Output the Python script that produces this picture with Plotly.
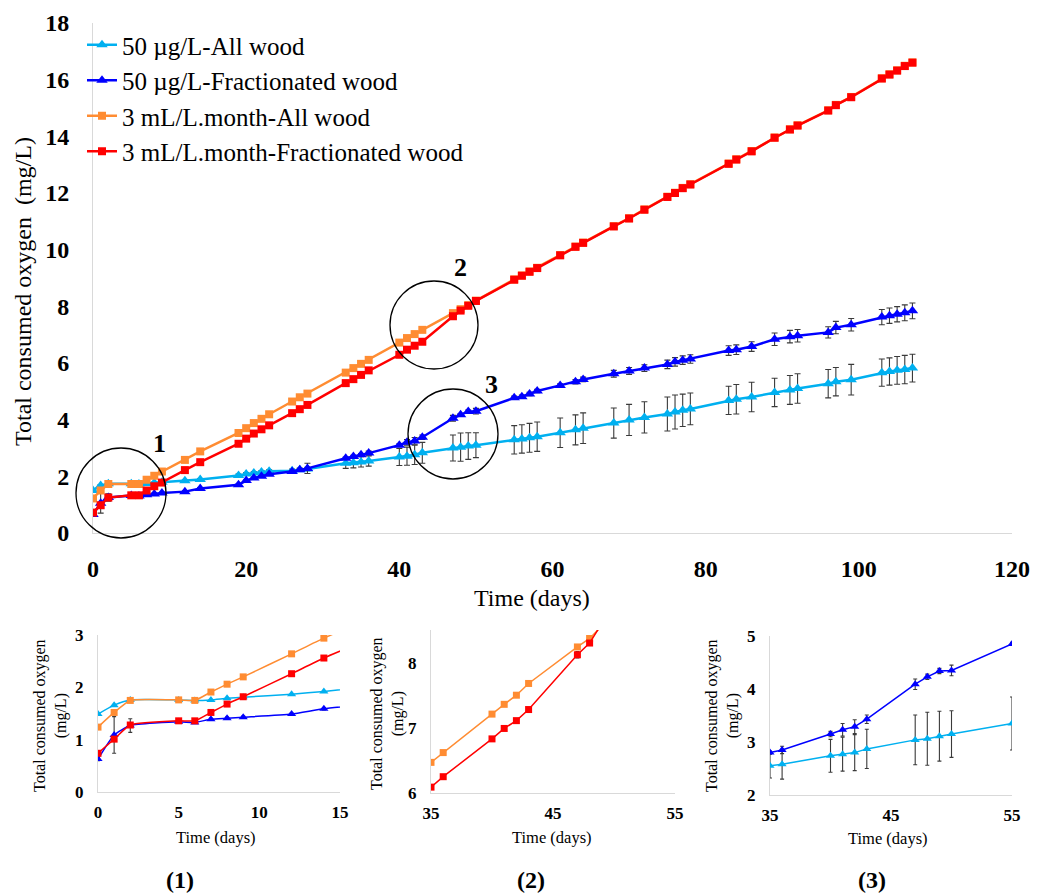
import plotly.graph_objects as go

# ---------------- data: main chart ----------------
days_main = [0, 1, 2, 5, 6, 7, 8, 9, 12, 14, 19, 20, 21, 22, 23, 26, 27, 28,
             33, 34, 35, 36, 40, 41, 42, 43, 47, 48, 49, 50, 55, 56, 57, 58,
             61, 63, 64, 68, 70, 72, 75, 76, 77, 78, 83, 84, 86, 89, 91, 92,
             96, 97, 99, 103, 104, 105, 106, 107]

cyan_main = [1.50, 1.68, 1.74, 1.74, 1.73, 1.75, 1.77, 1.79, 1.84, 1.89,
             2.03, 2.08, 2.12, 2.15, 2.18, 2.20, 2.23, 2.26,
             2.46, 2.48, 2.51, 2.54, 2.68, 2.71, 2.76, 2.83,
             3.00, 3.03, 3.07, 3.10, 3.29, 3.32, 3.36, 3.40,
             3.54, 3.64, 3.70, 3.88, 3.99, 4.08, 4.20, 4.27, 4.33, 4.38,
             4.68, 4.72, 4.80, 4.96, 5.05, 5.10, 5.27, 5.34, 5.41,
             5.66, 5.70, 5.74, 5.77, 5.82]
cyan_err = [0.03, 0.03, 0.03, 0.03, 0.03, 0.03, 0.03, 0.03, 0.03, 0.03,
            0.05, 0.05, 0.05, 0.05, 0.05, 0.06, 0.06, 0.06,
            0.18, 0.18, 0.18, 0.18, 0.30, 0.32, 0.34, 0.37,
            0.46, 0.50, 0.47, 0.44, 0.50, 0.50, 0.51, 0.52,
            0.52, 0.53, 0.54, 0.53, 0.55, 0.55, 0.60, 0.60, 0.57, 0.56,
            0.50, 0.52, 0.52, 0.50, 0.51, 0.52, 0.50, 0.50, 0.54,
            0.48, 0.48, 0.49, 0.50, 0.49]

blue_main = [0.65, 1.05, 1.25, 1.32, 1.31, 1.35, 1.38, 1.41, 1.46, 1.57,
             1.70, 1.85, 1.94, 2.00, 2.07, 2.17, 2.23, 2.28,
             2.64, 2.70, 2.76, 2.82, 3.10, 3.20, 3.25, 3.38,
             4.05, 4.17, 4.29, 4.30, 4.77, 4.81, 4.91, 5.01,
             5.21, 5.34, 5.42, 5.62, 5.72, 5.82, 5.95, 6.04, 6.10, 6.14,
             6.44, 6.47, 6.58, 6.84, 6.93, 6.96, 7.08, 7.25, 7.35,
             7.62, 7.67, 7.72, 7.77, 7.84]
blue_err = [0.05, 0.35, 0.13, 0.03, 0.03, 0.03, 0.03, 0.03, 0.03, 0.03,
            0.03, 0.03, 0.03, 0.03, 0.03, 0.04, 0.04, 0.18,
            0.04, 0.04, 0.04, 0.07, 0.05, 0.10, 0.12, 0.08,
            0.10, 0.05, 0.05, 0.10, 0.06, 0.06, 0.06, 0.06,
            0.06, 0.08, 0.08, 0.12, 0.12, 0.12, 0.15, 0.15, 0.15, 0.15,
            0.17, 0.17, 0.17, 0.22, 0.22, 0.22, 0.20, 0.22, 0.22,
            0.27, 0.27, 0.27, 0.28, 0.28]

orange_main = [1.22, 1.50, 1.73, 1.73, 1.73, 1.88, 2.02, 2.17, 2.58, 2.88,
               3.53, 3.70, 3.88, 4.03, 4.19, 4.64, 4.79, 4.92,
               5.66, 5.82, 5.97, 6.11, 6.72, 6.88, 7.02, 7.17,
               7.76, 7.90, 8.04, 8.20, 8.95, 9.09, 9.23, 9.36,
               9.81, 10.11, 10.25, 10.83, 11.11, 11.42, 11.87, 12.01, 12.18, 12.31,
               13.04, 13.19, 13.48, 13.96, 14.25, 14.39, 14.92, 15.11, 15.39,
               16.05, 16.19, 16.33, 16.49, 16.61]

red_main = [0.72, 0.98, 1.25, 1.33, 1.33, 1.50, 1.65, 1.78, 2.22, 2.50,
            3.15, 3.33, 3.51, 3.66, 3.80, 4.23, 4.37, 4.52,
            5.29, 5.43, 5.58, 5.74, 6.29, 6.47, 6.61, 6.75,
            7.65, 7.85, 8.02, 8.19, 8.94, 9.08, 9.22, 9.35,
            9.80, 10.10, 10.24, 10.82, 11.10, 11.41, 11.86, 12.00, 12.17, 12.30,
            13.03, 13.18, 13.47, 13.95, 14.24, 14.38, 14.91, 15.10, 15.38,
            16.04, 16.18, 16.32, 16.48, 16.60]

# ---------------- data: inset (1) ----------------
days_in1 = [0, 1, 2, 5, 6, 7, 8, 9, 12, 14, 19]
cyan_in1 = [1.49, 1.66, 1.76, 1.76, 1.75, 1.76, 1.79, 1.81, 1.87, 1.92, 2.08]
blue_in1 = [0.63, 1.09, 1.27, 1.34, 1.33, 1.39, 1.41, 1.43, 1.49, 1.59, 1.75]
blue_in1_err = [0.03, 0.35, 0.13, 0.02, 0.02, 0.02, 0.02, 0.02, 0.02, 0.02, 0.02]
orange_in1 = [1.24, 1.52, 1.75, 1.76, 1.75, 1.91, 2.06, 2.20, 2.64, 2.94, 3.60]
red_in1 = [0.74, 1.01, 1.28, 1.36, 1.36, 1.52, 1.68, 1.82, 2.26, 2.56, 3.20]

# ---------------- data: inset (2) ----------------
days_in2 = [35, 36, 40, 41, 42, 43, 47, 48, 49]
orange_in2 = [6.47, 6.62, 7.21, 7.36, 7.50, 7.68, 8.24, 8.37, 8.56]
red_in2 = [6.09, 6.25, 6.83, 6.99, 7.11, 7.28, 8.12, 8.30, 8.60]
red_in2_err = [0.0, 0.0, 0.0, 0.0, 0.0, 0.0, 0.05, 0.0, 0.0]

# ---------------- data: inset (3) ----------------
days_in3 = [35, 36, 40, 41, 42, 43, 47, 48, 49, 50, 55]
blue_in3 = [2.80, 2.85, 3.15, 3.23, 3.29, 3.43, 4.09, 4.23, 4.34, 4.35, 4.85]
blue_in3_err = [0.03, 0.07, 0.05, 0.12, 0.13, 0.08, 0.10, 0.05, 0.05, 0.10, 0.03]
cyan_in3 = [2.55, 2.58, 2.74, 2.77, 2.80, 2.87, 3.04, 3.06, 3.11, 3.15, 3.35]
cyan_in3_err = [0.23, 0.28, 0.31, 0.32, 0.34, 0.37, 0.47, 0.50, 0.47, 0.44, 0.50]

names = ["50 µg/L-All wood", "50 µg/L-Fractionated wood",
         "3 mL/L.month-All wood", "3 mL/L.month-Fractionated wood"]

# ---------------- styling ----------------
OFF = 8                      # page body offset of the figure
FW, FH = 1040, 887           # figure size
FONT = "Liberation Serif"
C_CYAN, C_BLUE, C_ORANGE, C_RED = "#00B0F0", "#0000FF", "#FF8C32", "#FF0000"
ERR_C = "#3a3a3a"
AXIS_C = "#d9d9d9"


def px_x(p):
    return (p - OFF) / FW


def px_y(p):
    return 1 - (p - OFF) / FH


def err(arr, w=3):
    return dict(type="data", array=arr, visible=True, color=ERR_C, thickness=1.1, width=w)


fig = go.Figure()

# main traces
main_specs = [
    (cyan_main, C_CYAN, "triangle-up", 10, cyan_err),
    (blue_main, C_BLUE, "triangle-up", 10, blue_err),
    (orange_main, C_ORANGE, "square", 8, None),
    (red_main, C_RED, "square", 8, None),
]
for (vals, col, sym, size, e), nm in zip(main_specs, names):
    fig.add_trace(go.Scatter(
        x=days_main, y=vals, name=nm, mode="lines+markers",
        line=dict(color=col, width=2.5),
        marker=dict(color=col, symbol=sym, size=size),
        error_y=err(e) if e is not None else None,
        xaxis="x", yaxis="y", showlegend=True))

# inset 1
in1_specs = [
    (cyan_in1, C_CYAN, "triangle-up", 8, None),
    (blue_in1, C_BLUE, "triangle-up", 8, blue_in1_err),
    (orange_in1, C_ORANGE, "square", 7, None),
    (red_in1, C_RED, "square", 7, None),
]
for vals, col, sym, size, e in in1_specs:
    fig.add_trace(go.Scatter(
        x=days_in1, y=vals, mode="lines+markers",
        line=dict(color=col, width=1.5, shape="spline", smoothing=0.5),
        marker=dict(color=col, symbol=sym, size=size),
        error_y=err(e, 2) if e is not None else None,
        xaxis="x2", yaxis="y2", showlegend=False, cliponaxis=True))

# inset 2
for vals, col, e in [(orange_in2, C_ORANGE, None), (red_in2, C_RED, red_in2_err)]:
    fig.add_trace(go.Scatter(
        x=days_in2, y=vals, mode="lines+markers",
        line=dict(color=col, width=1.5),
        marker=dict(color=col, symbol="square", size=7),
        error_y=err(e, 2) if e is not None else None,
        xaxis="x3", yaxis="y3", showlegend=False, cliponaxis=True))

# inset 3
for vals, col, e in [(cyan_in3, C_CYAN, cyan_in3_err), (blue_in3, C_BLUE, blue_in3_err)]:
    fig.add_trace(go.Scatter(
        x=days_in3, y=vals, mode="lines+markers",
        line=dict(color=col, width=1.5),
        marker=dict(color=col, symbol="triangle-up", size=8),
        error_y=err(e, 2),
        xaxis="x4", yaxis="y4", showlegend=False, cliponaxis=True))

tick_big = dict(family=FONT, size=24, color="black", weight="bold")
tick_small = dict(family=FONT, size=17, color="black", weight="bold")


def axis(dom, rng, dtick, anchor, font, standoff):
    return dict(domain=dom, range=rng, dtick=dtick, tick0=rng[0], anchor=anchor,
                showgrid=False, zeroline=False, showline=True, linecolor=AXIS_C,
                linewidth=1, ticks="", tickfont=font, ticklabelstandoff=standoff,
                automargin=False, fixedrange=True)


fig.update_layout(
    width=FW, height=FH,
    margin=dict(l=0, r=0, t=0, b=0, pad=0, autoexpand=False),
    paper_bgcolor="white", plot_bgcolor="white",
    font=dict(family=FONT, color="black"),
    xaxis=axis([px_x(93), px_x(1012)], [0, 120], 20, "y", tick_big, 14),
    yaxis=axis([px_y(533), px_y(23)], [0, 18], 2, "x", tick_big, 18),
    xaxis2=axis([px_x(98), px_x(340)], [0, 15], 5, "y2", tick_small, 5),
    yaxis2=axis([px_y(792), px_y(635)], [0, 3], 1, "x2", tick_small, 10),
    xaxis3=axis([px_x(431), px_x(675)], [35, 55], 10, "y3", tick_small, 5),
    yaxis3=axis([px_y(793), px_y(630)], [6, 8.5], 1, "x3", tick_small, 10),
    xaxis4=axis([px_x(770), px_x(1012)], [35, 55], 10, "y4", tick_small, 5),
    yaxis4=axis([px_y(795), px_y(636)], [2, 5], 1, "x4", tick_small, 10),
    legend=dict(x=px_x(82), y=px_y(22), xanchor="left", yanchor="top",
                font=dict(family=FONT, size=25, color="black"),
                bgcolor="rgba(0,0,0,0)", tracegroupgap=0, itemwidth=30),
    showlegend=True,
)

# circles marking zoomed regions
for cx, cy, r in [(121, 493, 45), (434, 325, 44), (453, 434, 45)]:
    fig.add_shape(type="circle", xref="paper", yref="paper",
                  x0=px_x(cx - r), x1=px_x(cx + r), y0=px_y(cy + r), y1=px_y(cy - r),
                  line=dict(color="black", width=1.3))


def note(text, x, y, size, angle=0):
    return dict(text=text, x=px_x(x), y=px_y(y), xref="paper", yref="paper",
                xanchor="center", yanchor="middle", textangle=angle, showarrow=False,
                font=dict(family=FONT, size=size, color="black"))


annots = []
for txt, x, y in [("1", 159, 443), ("2", 460, 267), ("3", 491, 384)]:
    annots.append(note(f"<b>{txt}</b>", x, y, 26))
annots.append(note("Time (days)", 532, 598, 24))
annots.append(note("Total consumed oxygen  (mg/L)", 23, 292, 24, -90))
for xt, yt, xy, yy, lab, lx in [(216, 837, 50, 716, "(1)", 180),
                                 (552, 837, 387, 714, "(2)", 531),
                                 (888, 838, 722, 716, "(3)", 872)]:
    annots.append(note("Time (days)", xt, yt, 16.5))
    annots.append(note("Total consumed oxygen<br>(mg/L)", xy, yy, 16, -90))
    annots.append(note(f"<b>{lab}</b>", lx, 880, 24))
fig.update_layout(annotations=annots)

fig.write_html("out.html")
